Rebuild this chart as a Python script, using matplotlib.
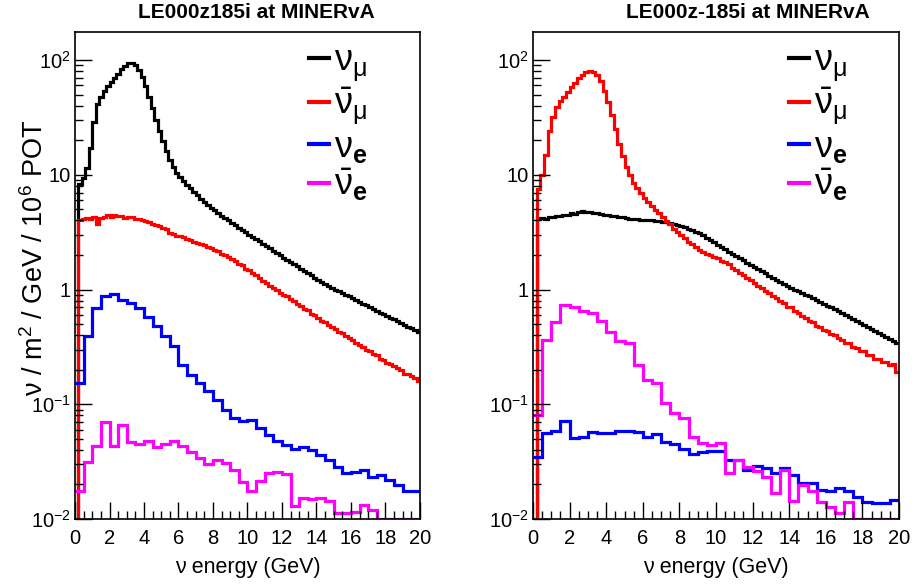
import numpy as np
import matplotlib
matplotlib.use("Agg")
import matplotlib.pyplot as plt
from matplotlib.lines import Line2D
from matplotlib.ticker import FixedLocator, FixedFormatter, MultipleLocator, LogLocator, NullFormatter

plt.rcParams['font.family'] = ['Liberation Sans', 'DejaVu Sans']
plt.rcParams['mathtext.fontset'] = 'custom'
plt.rcParams['mathtext.rm'] = 'Liberation Sans'
plt.rcParams['mathtext.it'] = 'Liberation Sans:italic'
plt.rcParams['mathtext.bf'] = 'Liberation Sans:bold'

# ---------------- data ----------------
fine_edges = np.linspace(0, 20, 101)    # 0.2 GeV bins
coarse_edges = np.linspace(0, 20, 41)   # 0.5 GeV bins

titles = ["LE000z185i at MINERvA", "LE000z-185i at MINERvA"]
labels = [r'$\mathrm{\nu}_{\mathrm{\mu}}$', r'$\bar{\mathrm{\nu}}_{\mathrm{\mu}}$',
          r'$\mathrm{\nu}_{\mathbf{e}}$', r'$\bar{\mathrm{\nu}}_{\mathbf{e}}$']
colors = ['black', '#ff0000', '#0000ff', '#ff00ff']
ytick_vals = [0.01, 0.1, 1, 10, 100]
ytick_labels = ['$10^{-2}$', '$10^{-1}$', '1', '10', '$10^{2}$']

left_numu = [0.001, 8.3, 9.3, 11.5, 17, 29, 41, 48, 54, 59,
             64, 70, 76, 83, 89, 94, 95, 90, 82, 71,
             59, 48, 38, 30, 24, 19.5, 16, 13.5, 11.7, 10.4,
             9.5, 8.8, 8.2, 7.6, 7.1, 6.6, 6.2, 5.8, 5.45, 5.15,
             4.9, 4.65, 4.4, 4.2, 4.0, 3.8, 3.62, 3.45, 3.3, 3.15,
             3.0, 2.87, 2.74, 2.62, 2.5, 2.39, 2.28, 2.18, 2.08, 1.99,
             1.9, 1.82, 1.74, 1.66, 1.59, 1.52, 1.45, 1.39, 1.33, 1.27,
             1.21, 1.16, 1.12, 1.08, 1.04, 1.0, 0.97, 0.93, 0.9, 0.87,
             0.84, 0.81, 0.78, 0.75, 0.73, 0.7, 0.68, 0.655, 0.63, 0.61,
             0.59, 0.57, 0.55, 0.53, 0.51, 0.49, 0.475, 0.46, 0.44, 0.43]
left_numubar = [0.001, 4.0, 4.15, 4.2, 4.1, 4.3, 3.7, 4.2, 4.3, 4.45,
                4.3, 4.5, 4.35, 4.4, 4.2, 4.3, 4.25, 4.1, 4.15, 4.0,
                3.95, 3.85, 3.75, 3.65, 3.55, 3.45, 3.35, 3.1, 3.05, 2.95,
                2.9, 2.85, 2.75, 2.7, 2.6, 2.55, 2.48, 2.42, 2.35, 2.28,
                2.2, 2.15, 2.05, 2.0, 1.92, 1.86, 1.76, 1.68, 1.62, 1.52,
                1.48, 1.4, 1.33, 1.27, 1.19, 1.13, 1.08, 1.03, 1.0, 0.94,
                0.9, 0.87, 0.82, 0.79, 0.75, 0.72, 0.68, 0.66, 0.61, 0.6,
                0.56, 0.53, 0.52, 0.49, 0.47, 0.45, 0.43, 0.415, 0.39, 0.375,
                0.36, 0.345, 0.33, 0.315, 0.3, 0.29, 0.275, 0.27, 0.25, 0.245,
                0.23, 0.225, 0.215, 0.205, 0.2, 0.185, 0.185, 0.175, 0.17, 0.16]
left_nue = [0.153, 0.39, 0.69, 0.87, 0.91, 0.81, 0.77, 0.69, 0.58, 0.48,
            0.39, 0.32, 0.22, 0.18, 0.153, 0.13, 0.11, 0.090, 0.076, 0.072,
            0.073, 0.062, 0.054, 0.048, 0.044, 0.041, 0.042, 0.040, 0.036, 0.033,
            0.0286, 0.025, 0.0257, 0.027, 0.0234, 0.024, 0.0219, 0.0199, 0.0174, 0.0174]
left_nuebar = [0.0175, 0.0316, 0.0437, 0.0698, 0.043, 0.066, 0.047, 0.045, 0.048, 0.042,
               0.045, 0.048, 0.043, 0.0387, 0.034, 0.030, 0.033, 0.031, 0.0268, 0.021,
               0.0175, 0.0215, 0.025, 0.0255, 0.0245, 0.013, 0.0151, 0.015, 0.0152, 0.0143,
               0.0113, 0.0112, 0.0115, 0.0133, 0.0121, 0.0101, 0.0101, 0.0101, 0.0101, 0.0101]

right_numu = [0.001, 4.1, 4.2, 4.15, 4.3, 4.25, 4.4, 4.35, 4.5, 4.45,
              4.6, 4.55, 4.75, 4.85, 4.7, 4.75, 4.6, 4.65, 4.55, 4.5,
              4.45, 4.4, 4.35, 4.3, 4.25, 4.2, 4.15, 4.12, 4.1, 4.05,
              4.05, 4.0, 4.0, 3.97, 3.93, 3.88, 3.84, 3.8, 3.72, 3.65,
              3.57, 3.48, 3.4, 3.3, 3.2, 3.08, 2.96, 2.83, 2.7, 2.58,
              2.45, 2.35, 2.24, 2.13, 2.04, 1.95, 1.87, 1.79, 1.71, 1.64,
              1.57, 1.5, 1.44, 1.38, 1.32, 1.26, 1.21, 1.16, 1.12, 1.08,
              1.04, 1.0, 0.97, 0.93, 0.9, 0.87, 0.84, 0.81, 0.78, 0.75,
              0.72, 0.7, 0.67, 0.645, 0.62, 0.6, 0.575, 0.55, 0.53, 0.51,
              0.49, 0.47, 0.455, 0.435, 0.42, 0.4, 0.385, 0.37, 0.355, 0.34]
right_numubar = [0.001, 7.5, 10, 15, 24, 32, 39, 44, 48, 53,
                 58, 63, 69, 74, 78, 80, 79, 74, 65, 54,
                 43, 33, 25, 18.5, 14.5, 11.8, 9.9, 8.5, 7.6, 6.9,
                 6.3, 5.8, 5.35, 4.95, 4.6, 4.3, 3.95, 3.7, 3.4, 3.2,
                 3.0, 2.8, 2.6, 2.47, 2.33, 2.22, 2.12, 2.05, 1.98, 1.93,
                 1.87, 1.78, 1.72, 1.66, 1.55, 1.49, 1.4, 1.34, 1.27, 1.2,
                 1.15, 1.07, 1.04, 0.97, 0.94, 0.87, 0.85, 0.79, 0.77, 0.71,
                 0.7, 0.65, 0.63, 0.59, 0.57, 0.535, 0.52, 0.485, 0.475, 0.445,
                 0.435, 0.41, 0.4, 0.375, 0.365, 0.345, 0.34, 0.315, 0.31, 0.29,
                 0.29, 0.27, 0.27, 0.25, 0.25, 0.235, 0.235, 0.22, 0.225, 0.19]
right_nue = [0.0345, 0.056, 0.058, 0.071, 0.051, 0.052, 0.057, 0.056, 0.056, 0.058,
             0.059, 0.057, 0.052, 0.055, 0.047, 0.045, 0.041, 0.037, 0.038, 0.039,
             0.039, 0.033, 0.033, 0.027, 0.029, 0.028, 0.025, 0.028, 0.024, 0.0205,
             0.0205, 0.018, 0.0175, 0.0185, 0.0177, 0.0156, 0.014, 0.0137, 0.0137, 0.0145]
right_nuebar = [0.081, 0.36, 0.52, 0.73, 0.70, 0.65, 0.62, 0.53, 0.43, 0.355,
                0.34, 0.219, 0.164, 0.153, 0.102, 0.084, 0.076, 0.052, 0.046, 0.044,
                0.046, 0.025, 0.033, 0.0286, 0.026, 0.0234, 0.017, 0.027, 0.0143, 0.0199,
                0.0174, 0.014, 0.0126, 0.0112, 0.014, 0.0101, 0.0101, 0.0101, 0.0101, 0.0101]

panels = [
    (titles[0], [left_numu, left_numubar, left_nue, left_nuebar]),
    (titles[1], [right_numu, right_numubar, right_nue, right_nuebar]),
]

# ---------------- figure ----------------
W, H = 915, 587
fig = plt.figure(figsize=(W / 100, H / 100), dpi=100)
frames = [(75, 420), (533, 899)]
top_px, bot_px = 32, 519
px_per_decade = (bot_px - 60) / 4.0
ytop = 10 ** (2 + (60 - top_px) / px_per_decade)
title_x = [256, 748]
legend_x = [309, 789]
legend_top = 44

for (title, series), (x0, x1), tx, lx in zip(panels, frames, title_x, legend_x):
    ax = fig.add_axes([x0 / W, 1 - bot_px / H, (x1 - x0) / W, (bot_px - top_px) / H])
    edges_list = [fine_edges, fine_edges, coarse_edges, coarse_edges]
    for vals, edges, c, lab in zip(series, edges_list, colors, labels):
        ax.stairs(vals, edges, baseline=None, color=c, linewidth=2.3, label=lab)
    ax.set_yscale('log')
    ax.set_xlim(0, 20)
    ax.set_ylim(0.01, ytop)
    ax.yaxis.set_major_locator(FixedLocator(ytick_vals))
    ax.yaxis.set_major_formatter(FixedFormatter(ytick_labels))
    ax.yaxis.set_minor_locator(LogLocator(base=10, subs=np.arange(2, 10)))
    ax.yaxis.set_minor_formatter(NullFormatter())
    ax.xaxis.set_major_locator(MultipleLocator(2))
    ax.xaxis.set_minor_locator(MultipleLocator(0.5))
    ax.tick_params(which='both', direction='in', top=False, right=False, width=1.0)
    ax.tick_params(which='major', length=12, labelsize=14.5)
    ax.tick_params(axis='x', which='major', pad=7)
    ax.tick_params(axis='y', which='major', pad=3)
    ax.tick_params(which='minor', length=6)
    for s in ax.spines.values():
        s.set_linewidth(1.2)
    ax.set_xlabel('ν energy (GeV)', fontsize=15.5, labelpad=7)
    leg_handles = [Line2D([], [], color=c, linewidth=3) for c in colors]
    ax.legend(leg_handles, labels, loc='upper left',
              bbox_to_anchor=((lx - x0) / (x1 - x0), 1 - (legend_top - top_px) / (bot_px - top_px)),
              frameon=False, fontsize=26, handlelength=0.55, handletextpad=0.15,
              labelspacing=0.05, borderpad=0, borderaxespad=0)
    fig.text(tx / W, 1 - 13 / H, title, ha='center', va='center',
             fontsize=15, fontweight='bold')
    if x0 == 75:
        fig.text(35 / W, 1 - 258 / H, 'ν / m$^{2}$ / GeV / 10$^{6}$ POT',
                 rotation=90, ha='center', va='center', fontsize=19.5)

fig.savefig('out.png', dpi=100)
